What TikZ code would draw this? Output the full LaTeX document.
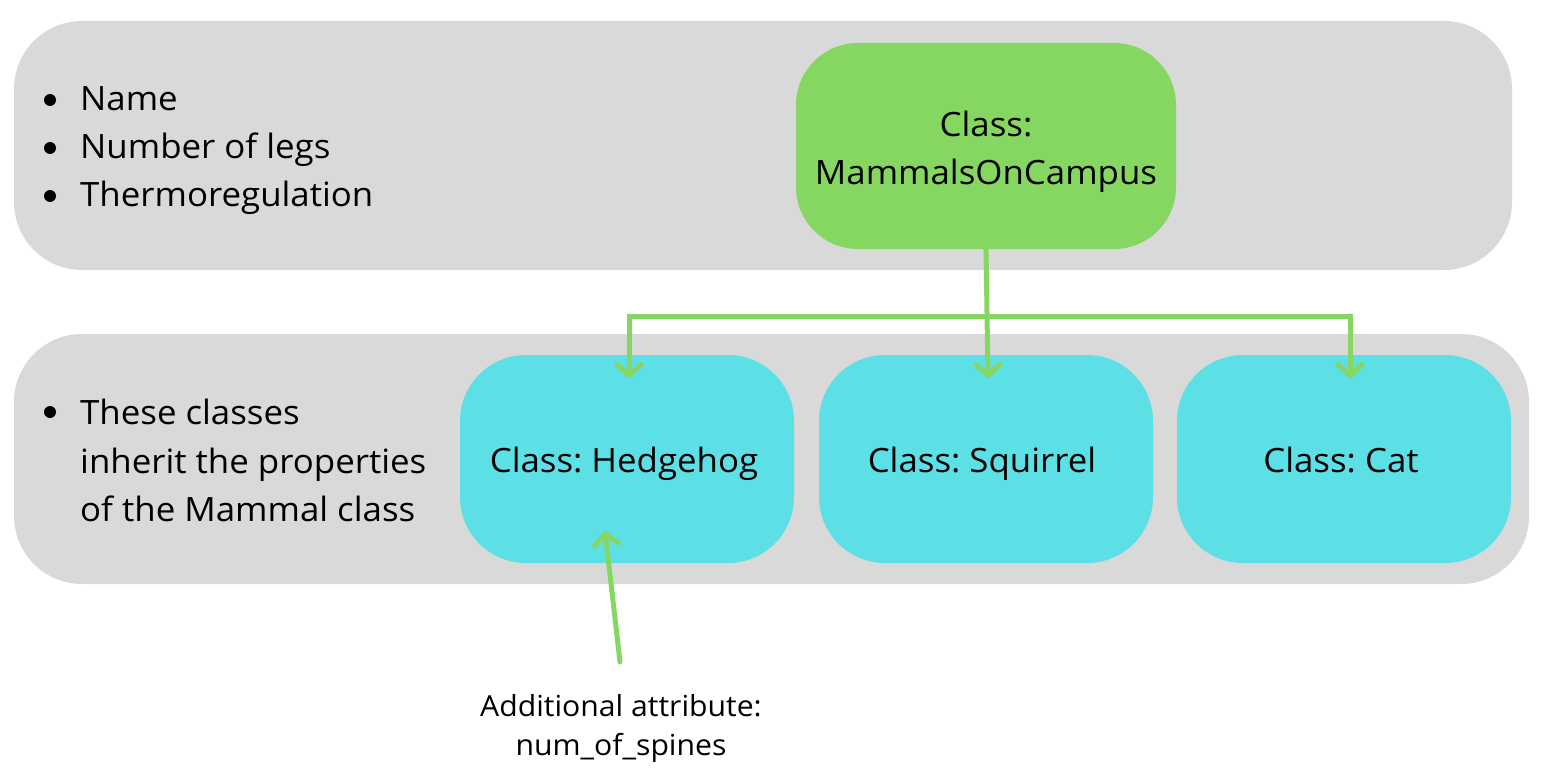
\documentclass[tikz,border=0pt]{standalone}
\usepackage{fontspec}
\setmainfont{Open Sans}[FakeStretch=1.04]
\usetikzlibrary{arrows.meta}
\definecolor{bandgray}{HTML}{D9D9D9}
\definecolor{boxgreen}{HTML}{86D762}
\definecolor{boxcyan}{HTML}{5CE0E6}
\tikzset{
  band/.style={fill=bandgray, draw=none, rounded corners=68pt},
  greenbox/.style={fill=boxgreen, draw=none, rounded corners=62pt},
  cyanbox/.style={fill=boxcyan, draw=none, rounded corners=66pt},
  lbl/.style={font=\fontsize{33.5}{48}\selectfont, inner sep=0pt, align=center},
  bul/.style={font=\fontsize{33.5}{48.5}\selectfont, inner sep=0pt, anchor=base west, align=left},
  dot/.style={circle, fill=black, draw=none, minimum size=12pt, inner sep=0pt},
  conn/.style={draw=boxgreen, line width=5pt, line cap=round, line join=round,
     -{Straight Barb[length=11pt,width=24pt,line width=5pt,round]}},
  note/.style={font=\fontsize{29}{39}\selectfont, inner sep=0pt, align=center}
}
\begin{document}
\frenchspacing
\begin{tikzpicture}[x=1pt,y=-1pt]
\useasboundingbox (0,0) rectangle (1544,778);
% bands
\path[band] (14,21) rectangle (1512,270);
\path[band] (14,334) rectangle (1529,584);
% boxes
\node[greenbox, minimum width=380pt, minimum height=206pt, inner sep=0pt] (mam) at (986,146) {};
\node[lbl] at (986,152) {Class:\\MammalsOnCampus};
\node[cyanbox, minimum width=334pt, minimum height=208pt, inner sep=0pt] (hed) at (627,459) {};
\node[lbl, anchor=base] at (624,472) {Class: Hedgehog};
\node[cyanbox, minimum width=334pt, minimum height=208pt, inner sep=0pt] (squ) at (986,459) {};
\node[lbl, anchor=base] at (982,472) {Class: Squirrel};
\node[cyanbox, minimum width=334pt, minimum height=208pt, inner sep=0pt] (cat) at (1344,459) {};
\node[lbl, anchor=base] at (1341,472) {Class: Cat};
% bullet lists
\node[dot] (b1) at (50,100) {};
\node[bul] (t1) at (80,111) {Name};
\node[dot] (b2) at (50,148) {};
\node[bul] (t2) at (80,159) {Number of legs};
\node[dot] (b3) at (50,196) {};
\node[bul] (t3) at (80,207) {Thermoregulation};
\node[dot] (b4) at (50,412) {};
\node[bul, anchor=north west] (t4) at (80,399) {These classes\\inherit the properties\\of the Mammal class};
% connectors
\coordinate (jl) at (629,316);
\coordinate (jr) at (1350,316);
\coordinate (hedtop) at (629,378);
\coordinate (cattop) at (1350,378);
\coordinate (squtop) at (988,378);
\draw[conn] (mam.south) -- (squtop);
\draw[draw=boxgreen, line width=5pt, line join=miter] (jl |- hedtop) ++(0,-10) -- (jl) -- (jr) -- ++(0,10);
\draw[conn] (jl) -- (hedtop);
\draw[conn] (jr) -- (cattop);
% note
\node[note] (nt) at (621,728) {Additional attribute:\\num\_of\_spines};
\coordinate (ns) at (620,662);
\coordinate (ne) at (605,531);
\draw[conn] (ns) -- (ne);
\end{tikzpicture}
\end{document}
